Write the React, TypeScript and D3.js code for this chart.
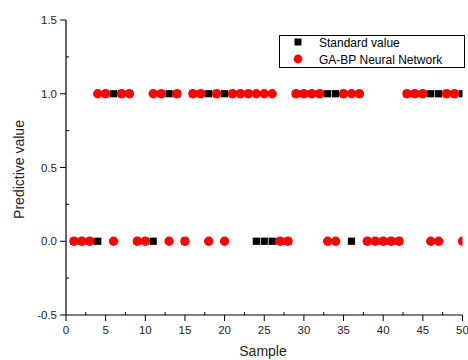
import React from 'react';
import { scaleLinear, range } from 'd3';

// samples 1..50
const samples = range(1, 51);
const standardValue = [0,0,0,0,1,1,1,1,0,0,0,1,1,1,0,1,1,1,1,1,1,1,1,0,0,0,0,0,1,1,1,1,1,1,1,0,1,0,0,0,0,0,1,1,1,1,1,1,1,1];
const gaBpValue = [0,0,0,1,1,0,1,1,0,0,1,1,0,1,0,1,1,0,1,0,1,1,1,1,1,1,0,0,1,1,1,1,0,0,1,1,1,0,0,0,0,0,1,1,1,0,0,1,1,0];
const xTicks = [0, 5, 10, 15, 20, 25, 30, 35, 40, 45, 50];
const yTicks = [-0.5, 0, 0.5, 1.0, 1.5];
const legendLabels = ['Standard value', 'GA-BP Neural Network'];

const width = 468, height = 360;
const left = 66, right = 462.5, top = 20, bottom = 315;
const font = 'Arial, "Liberation Sans", sans-serif';

export default function App() {
    const x = scaleLinear().domain([0, 50]).range([left, right]);
    const y = scaleLinear().domain([-0.5, 1.5]).range([bottom, top]);

    const xMinor = range(2.5, 50, 5);
    const yMinor = range(-0.25, 1.5, 0.5);

    return (
        <svg width={width} height={height} style={{ position: 'absolute', left: 0, top: 0 }}>
            <rect width={width} height={height} fill='#fff' />
            <defs>
                <clipPath id='plot'>
                    <rect x={left} y={top} width={right - left} height={bottom - top} />
                </clipPath>
            </defs>

            {/* data: red drawn over black */}
            <g clipPath='url(#plot)'>
                {samples.map((s, i) => (
                    <rect key={'s' + s} x={x(s) - 3.6} y={y(standardValue[i]) - 3.6} width={7.2} height={7.2} fill='#000' />
                ))}
                {samples.map((s, i) => (
                    <circle key={'p' + s} cx={x(s)} cy={y(gaBpValue[i])} r={4.7} fill='#ff0000' />
                ))}
            </g>

            {/* axes */}
            <line x1={left} x2={left} y1={top} y2={bottom} stroke='#000' strokeWidth={1.2} />
            <line x1={left} x2={right} y1={bottom} y2={bottom} stroke='#000' strokeWidth={1.2} />

            {yTicks.map((t) => (
                <g key={'yt' + t}>
                    <line x1={left - 6} x2={left} y1={y(t)} y2={y(t)} stroke='#000' />
                    <text x={left - 9} y={y(t) + 4} fontSize={11.5} fontFamily={font} textAnchor='end' fill='#222'>
                        {t.toFixed(1)}
                    </text>
                </g>
            ))}
            {yMinor.map((t) => (
                <line key={'ym' + t} x1={left} x2={left + 3} y1={y(t)} y2={y(t)} stroke='#000' />
            ))}

            {xTicks.map((t) => (
                <g key={'xt' + t}>
                    <line x1={x(t)} x2={x(t)} y1={bottom} y2={bottom + 6} stroke='#000' />
                    <text x={x(t)} y={bottom + 19} fontSize={11.5} fontFamily={font} textAnchor='middle' fill='#222'>
                        {t}
                    </text>
                </g>
            ))}
            {xMinor.map((t) => (
                <line key={'xm' + t} x1={x(t)} x2={x(t)} y1={bottom} y2={bottom - 3} stroke='#000' />
            ))}

            <text x={263} y={356} fontSize={14} fontFamily={font} textAnchor='middle' fill='#222'>Sample</text>
            <text transform={`translate(24,${(top + bottom) / 2 + 2}) rotate(-90)`} fontSize={14} fontFamily={font} textAnchor='middle' fill='#222'>
                Predictive value
            </text>

            {/* legend */}
            <rect x={279.5} y={35.5} width={185} height={32} fill='#fff' stroke='#000' />
            <rect x={294.5} y={38.5} width={7} height={7} fill='#000' />
            <circle cx={298} cy={59} r={4.4} fill='#ff0000' />
            <text x={319} y={46.5} fontSize={12} fontFamily={font} fill='#000'>{legendLabels[0]}</text>
            <text x={319} y={63.5} fontSize={12} fontFamily={font} fill='#000'>{legendLabels[1]}</text>
        </svg>
    );
}
